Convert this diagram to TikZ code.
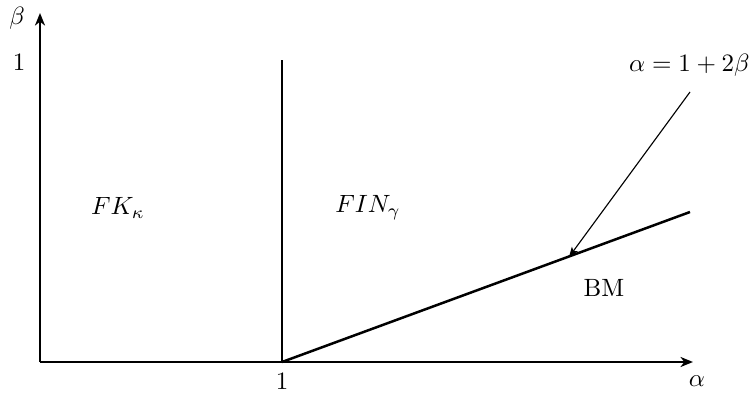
\documentclass[tikz,border=0pt]{standalone}
\usetikzlibrary{arrows.meta}
\begin{document}
\begin{tikzpicture}[x=0.4pt,y=-0.4pt,
  axis/.style={line width=1pt,-{Stealth[length=5pt,width=4pt,inset=1.5pt]}},
  bound/.style={line width=1pt},
  pointer/.style={line width=0.45pt,-{Stealth[length=4pt,width=3pt,inset=1pt]}},
  lbl/.style={inner sep=0pt}]
\useasboundingbox (0,0) rectangle (751,398);
\coordinate (O) at (40,362);
\coordinate (X) at (693,362);
\coordinate (Y) at (40,13);
\coordinate (V0) at (282,362);
\coordinate (V1) at (282,60);
\coordinate (D1) at (690,212);
\coordinate (P0) at (690,92);
\coordinate (P1) at (569,257);
\draw[axis] (O) -- (X);
\draw[axis] (O) -- (Y);
\draw[bound] (V0) -- (V1);
\draw[bound] (V0) -- (D1);
\draw[pointer] (P0) -- (P1);
\node[lbl] (beta) at (17,18) {$\beta$};
\node[lbl] (alpha) at (697,381) {$\alpha$};
\node[lbl] (y1) at (19,62) {$1$};
\node[lbl] (x1) at (282,381) {$1$};
\node[lbl,anchor=east] (eq) at (750,65) {$\alpha=1+2\beta$};
\node[lbl] (fk) at (118,208) {$FK_\kappa$};
\node[lbl] (fin) at (368,208) {$FIN_\gamma$};
\node[lbl] (bm) at (604,288) {BM};
\end{tikzpicture}
\end{document}
